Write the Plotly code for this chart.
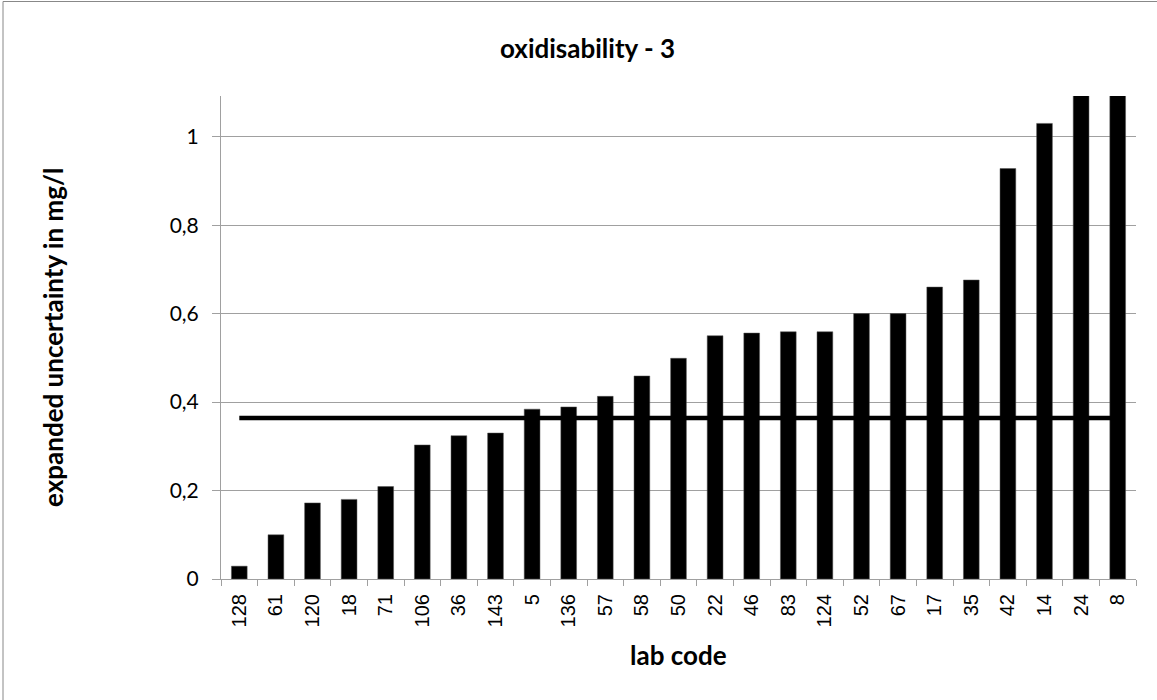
import plotly.graph_objects as go

lab_codes = ["128", "61", "120", "18", "71", "106", "36", "143", "5", "136", "57", "58", "50",
             "22", "46", "83", "124", "52", "67", "17", "35", "42", "14", "24", "8"]
uncertainty = [0.029, 0.100, 0.172, 0.180, 0.209, 0.303, 0.324, 0.330, 0.384, 0.389, 0.413,
               0.459, 0.499, 0.550, 0.556, 0.559, 0.559, 0.600, 0.600, 0.660, 0.676, 0.928,
               1.030, 1.200, 1.250]
reference_value = 0.364

title_text = "oxidisability - 3"
y_title = "expanded uncertainty in mg/l"
x_title = "lab code"

W, H = 1157, 700
L, R, T, B = 221, 21, 96, 121
PW, PH = W - L - R, H - T - B


def px_to_paper_x(px):
    return (px - L) / PW


def px_to_paper_y(py):
    return (H - B - py) / PH


fig = go.Figure()
fig.add_trace(go.Bar(
    x=lab_codes, y=uncertainty, width=0.43,
    marker=dict(color="black", line=dict(color="#555555", width=0.5)),
    showlegend=False, hoverinfo="x+y",
))
fig.add_trace(go.Scatter(
    x=lab_codes, y=[reference_value] * len(lab_codes), mode="lines",
    line=dict(color="black", width=4.5), showlegend=False,
))

fig.update_layout(
    width=W, height=H,
    paper_bgcolor="white", plot_bgcolor="white",
    margin=dict(l=L, r=R, t=T, b=B),
    separators=", ",
    xaxis=dict(
        type="category", tickangle=-90, tickson="boundaries",
        ticks="outside", ticklen=6, tickcolor="#a0a0a0",
        showline=True, linecolor="#a0a0a0", linewidth=1,
        showgrid=False, ticklabelstandoff=6,
        tickfont=dict(family="Liberation Sans", size=20, color="black"),
    ),
    yaxis=dict(
        range=[0, 1.092], dtick=0.2, tick0=0,
        ticks="outside", ticklen=8, tickcolor="#a0a0a0",
        showline=True, linecolor="#a0a0a0", linewidth=1,
        showgrid=True, gridcolor="#a0a0a0", gridwidth=1,
        zeroline=False, ticklabelstandoff=9,
        tickfont=dict(family="Lato", size=21, color="black"),
    ),
    bargap=0.57,
)

bold = dict(family="Lato", size=26, color="black", weight="bold")
fig.add_annotation(text=title_text, xref="paper", yref="paper",
                   x=px_to_paper_x(587), y=px_to_paper_y(48),
                   xanchor="center", yanchor="middle", showarrow=False, font=bold)
fig.add_annotation(text=x_title, xref="paper", yref="paper",
                   x=px_to_paper_x(678), y=px_to_paper_y(655),
                   xanchor="center", yanchor="middle", showarrow=False, font=bold)
fig.add_annotation(text=y_title, xref="paper", yref="paper", textangle=-90,
                   x=px_to_paper_x(53), y=px_to_paper_y(338),
                   xanchor="center", yanchor="middle", showarrow=False, font=bold)

# outer chart-area border (top and left edges visible)
fig.add_shape(type="rect", xref="paper", yref="paper",
              x0=px_to_paper_x(3), x1=px_to_paper_x(1175),
              y0=px_to_paper_y(715), y1=px_to_paper_y(1.5),
              line=dict(color="#888888", width=1), fillcolor="rgba(0,0,0,0)", layer="below")

fig.write_html("out.html", config={"displayModeBar": False},
               post_script="document.body.style.margin='0px';document.body.style.overflow='hidden';")
